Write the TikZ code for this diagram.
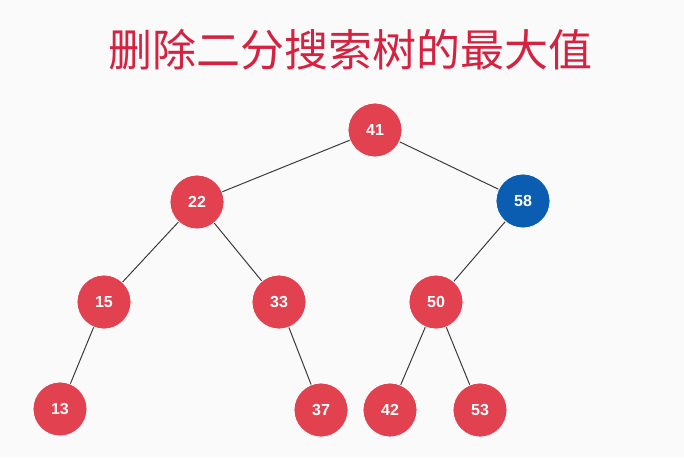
\documentclass[tikz,border=0pt]{standalone}
\usepackage{fontspec}
\setmainfont{Liberation Sans}
\newfontfamily\cjk{Noto Sans CJK SC}
\definecolor{nodered}{HTML}{E2414F}
\definecolor{nodeblue}{HTML}{0B5DB2}
\definecolor{titlered}{HTML}{D42240}
\definecolor{edgegray}{HTML}{3C3C3C}
\definecolor{bg}{HTML}{FAFAFA}
\begin{document}
\begin{tikzpicture}[x=1pt,y=-1pt,
  tnode/.style={circle,fill=nodered,draw=white,line width=0.8pt,minimum size=54pt,inner sep=0pt,text=white,font=\bfseries\fontsize{16}{18}\selectfont},
  bnode/.style={tnode,fill=nodeblue},
  edge/.style={draw=edgegray,line width=1pt}]
\fill[bg] (0,0) rectangle (684,457);
\useasboundingbox (0,0) rectangle (684,457);
\node[text=titlered,font=\cjk\fontsize{44}{48}\selectfont] (title) at (350,50) {删除二分搜索树的最大值};
\node[tnode] (n41) at (375,130) {41};
\node[tnode] (n22) at (197,202) {22};
\node[bnode] (n58) at (523,201) {58};
\node[tnode] (n15) at (104,302) {15};
\node[tnode] (n33) at (279,302) {33};
\node[tnode] (n50) at (436,302) {50};
\node[tnode] (n13) at (60,409) {13};
\node[tnode] (n37) at (321,410) {37};
\node[tnode] (n42) at (390,410) {42};
\node[tnode] (n53) at (480,410) {53};
\draw[edge] (n41) -- (n22);
\draw[edge] (n41) -- (n58);
\draw[edge] (n22) -- (n15);
\draw[edge] (n22) -- (n33);
\draw[edge] (n58) -- (n50);
\draw[edge] (n15) -- (n13);
\draw[edge] (n33) -- (n37);
\draw[edge] (n50) -- (n42);
\draw[edge] (n50) -- (n53);
\end{tikzpicture}
\end{document}
